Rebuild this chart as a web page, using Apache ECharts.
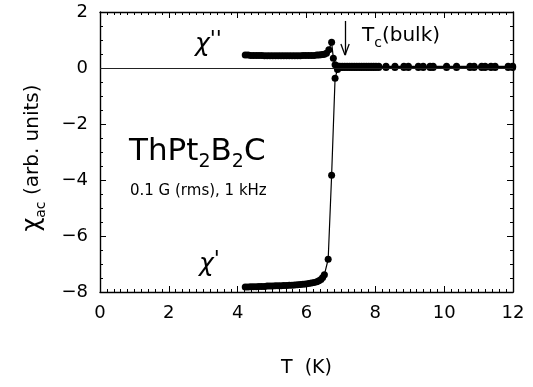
<!DOCTYPE html>
<html>
<head>
<meta charset="utf-8">
<script src="https://cdn.jsdelivr.net/npm/echarts@6/dist/echarts.min.js"></script>
<style>html,body{margin:0;padding:0;background:#fff}#c{width:533px;height:387px}</style>
</head>
<body>
<div id="c"></div>
<script>
// ---- data ----
const chiPrimeT = [4.22,4.30,4.38,4.46,4.54,4.62,4.70,4.78,4.86,4.94,5.02,5.10,5.18,5.26,5.34,5.42,5.50,5.58,5.66,5.74,5.82,5.90,5.98,6.06,6.14,6.22,6.30,6.36,6.42,6.47,6.52,
  6.63,6.73,6.83,6.90,
  6.97,7.04,7.11,7.18,7.25,7.32,7.39,7.46,7.53,7.60,7.67,7.74,7.81,7.88,7.95,8.02,8.10,
  8.31,8.57,8.83,8.96,9.25,9.39,9.59,9.68,10.07,10.36,10.75,10.87,11.09,11.19,11.36,11.48,11.86,11.99];
const chiPrimeV = [-7.82,-7.82,-7.81,-7.81,-7.81,-7.80,-7.80,-7.80,-7.79,-7.79,-7.79,-7.78,-7.78,-7.78,-7.77,-7.77,-7.76,-7.76,-7.75,-7.74,-7.73,-7.72,-7.71,-7.70,-7.68,-7.66,-7.63,-7.60,-7.55,-7.48,-7.38,
  -6.83,-3.83,-0.37,-0.05,
  0.01,0.02,0.02,0.02,0.02,0.02,0.02,0.02,0.02,0.02,0.02,0.02,0.02,0.02,0.02,0.02,0.02,
  0.02,0.02,0.02,0.02,0.02,0.02,0.02,0.02,0.02,0.02,0.02,0.02,0.02,0.02,0.02,0.02,0.02,0.02];
const chiDoubleT = [4.22,4.30,4.38,4.46,4.54,4.62,4.70,4.78,4.86,4.94,5.02,5.10,5.18,5.26,5.34,5.42,5.50,5.58,5.66,5.74,5.82,5.90,5.98,6.06,6.14,6.22,6.30,6.36,6.42,6.47,6.52,
  6.58,6.65,6.73,6.78,6.83,6.90,
  6.97,7.04,7.11,7.18,7.25,7.32,7.39,7.46,7.53,7.60,7.67,7.74,7.81,7.88,7.95,8.02,8.10,
  8.31,8.57,8.83,8.96,9.25,9.39,9.59,9.68,10.07,10.36,10.75,10.87,11.09,11.19,11.36,11.48,11.86,11.99];
const chiDoubleV = [0.46,0.46,0.45,0.45,0.45,0.45,0.45,0.44,0.44,0.44,0.44,0.44,0.44,0.44,0.44,0.44,0.44,0.44,0.44,0.44,0.44,0.45,0.45,0.45,0.45,0.45,0.46,0.46,0.47,0.48,0.49,
  0.53,0.65,0.92,0.35,0.12,0.07,
  0.06,0.06,0.06,0.06,0.06,0.06,0.06,0.06,0.06,0.06,0.06,0.06,0.06,0.06,0.06,0.06,0.06,
  0.06,0.06,0.06,0.06,0.06,0.06,0.06,0.06,0.06,0.06,0.06,0.06,0.06,0.06,0.06,0.06,0.06,0.06];
const xRange = [0, 12], xStep = 2;
const yRange = [-8, 2], yStep = 2;
const tcBulkT = 7.12; // arrow position

const FONT = 'DejaVu Sans';
const pair = (ts, vs) => ts.map((t, i) => [t, vs[i]]);
const minus = v => String(v).replace('-', '\u2212');

const chart = echarts.init(document.getElementById('c'));
function axisBase(minorSplit) {
  return {
    axisLine: {show: true, onZero: false, lineStyle: {color: '#000', width: 1.4}},
    axisTick: {show: true, inside: true, length: 6, lineStyle: {color: '#000', width: 1}},
    minorTick: {show: true, splitNumber: minorSplit, length: 3, lineStyle: {color: '#000', width: 1}},
    splitLine: {show: false}
  };
}
const labelStyle = {fontFamily: FONT, fontSize: 18, color: '#000', formatter: minus};
chart.setOption({
  animation: false,
  backgroundColor: '#fff',
  grid: {left: 100, right: 20, top: 12, bottom: 95},
  xAxis: [
    Object.assign({type: 'value', min: xRange[0], max: xRange[1], interval: xStep, position: 'bottom',
      axisLabel: Object.assign({margin: 12}, labelStyle),
      name: 'T  (K)', nameLocation: 'middle', nameGap: 67,
      nameTextStyle: {fontFamily: FONT, fontSize: 19, color: '#000'}}, axisBase(10)),
    Object.assign({type: 'value', min: xRange[0], max: xRange[1], interval: xStep, position: 'top',
      axisLabel: {show: false}}, axisBase(10))
  ],
  yAxis: [
    Object.assign({type: 'value', min: yRange[0], max: yRange[1], interval: yStep, position: 'left',
      axisLabel: Object.assign({margin: 12}, labelStyle),
      name: '{c|χ}{s|ac}{a| (arb. units)}', nameLocation: 'middle', nameGap: 52, nameRotate: 90,
      nameTextStyle: {fontFamily: FONT, color: '#000', padding: [0, 12, 0, 0],
        rich: {a: {fontFamily: FONT, fontSize: 20, color: '#000', lineHeight: 30},
               c: {fontFamily: FONT, fontSize: 24, color: '#000', lineHeight: 30},
               s: {fontFamily: FONT, fontSize: 14, color: '#000', lineHeight: 30, verticalAlign: 'bottom'}}}},
      axisBase(4)),
    Object.assign({type: 'value', min: yRange[0], max: yRange[1], interval: yStep, position: 'right',
      axisLabel: {show: false}}, axisBase(4))
  ],
  series: [
    {
      type: 'line', name: "χ'", data: pair(chiPrimeT, chiPrimeV),
      symbol: 'circle', symbolSize: 7, showAllSymbol: true,
      itemStyle: {color: '#000'}, lineStyle: {color: '#000', width: 1.2},
      markLine: {silent: true, symbol: 'none', label: {show: false},
        lineStyle: {color: '#222', width: 1, type: 'solid'},
        data: [{yAxis: 0}]}
    },
    {
      type: 'line', name: "χ''", data: pair(chiDoubleT, chiDoubleV),
      symbol: 'circle', symbolSize: 7, showAllSymbol: true,
      itemStyle: {color: '#000'}, lineStyle: {color: '#000', width: 1.2},
      markLine: {silent: true, symbol: 'none', label: {show: false},
        lineStyle: {color: '#000', width: 1.3, type: 'solid'},
        data: [
          [{coord: [tcBulkT, 1.68]}, {coord: [tcBulkT, 0.46]}],
          [{coord: [tcBulkT - 0.12, 0.86]}, {coord: [tcBulkT, 0.46]}],
          [{coord: [tcBulkT + 0.12, 0.86]}, {coord: [tcBulkT, 0.46]}]
        ]}
    }
  ],
  graphic: [
    {type: 'text', x: 195, y: 44, style: {
      text: "{c|χ}{p|''}", textVerticalAlign: 'middle',
      rich: {c: {fontFamily: FONT, fontStyle: 'italic', fontSize: 25, fill: '#000', lineHeight: 30},
             p: {fontFamily: FONT, fontStyle: 'italic', fontSize: 22, fill: '#000', lineHeight: 30, verticalAlign: 'top'}}}},
    {type: 'text', x: 199, y: 264, style: {
      text: "{c|χ}{p|'}", textVerticalAlign: 'middle',
      rich: {c: {fontFamily: FONT, fontStyle: 'italic', fontSize: 25, fill: '#000', lineHeight: 30},
             p: {fontFamily: FONT, fontStyle: 'italic', fontSize: 22, fill: '#000', lineHeight: 30, verticalAlign: 'top'}}}},
    {type: 'text', x: 362, y: 36, style: {
      text: '{a|T}{s|c}{a|(bulk)}', textVerticalAlign: 'middle',
      rich: {a: {fontFamily: FONT, fontSize: 20, fill: '#000', lineHeight: 28},
             s: {fontFamily: FONT, fontSize: 14, fill: '#000', lineHeight: 28, verticalAlign: 'bottom'}}}},
    {type: 'text', x: 129, y: 152, style: {
      text: '{a|ThPt}{s|2}{a|B}{s|2}{a|C}', textVerticalAlign: 'middle',
      rich: {a: {fontFamily: FONT, fontSize: 31, fill: '#000', lineHeight: 40},
             s: {fontFamily: FONT, fontSize: 19, fill: '#000', lineHeight: 40, verticalAlign: 'bottom'}}}},
    {type: 'text', x: 130, y: 191, style: {text: '0.1 G (rms), 1 kHz', font: '15px "DejaVu Sans"', fill: '#000', textVerticalAlign: 'middle'}}
  ]
});
</script>
</body>
</html>
